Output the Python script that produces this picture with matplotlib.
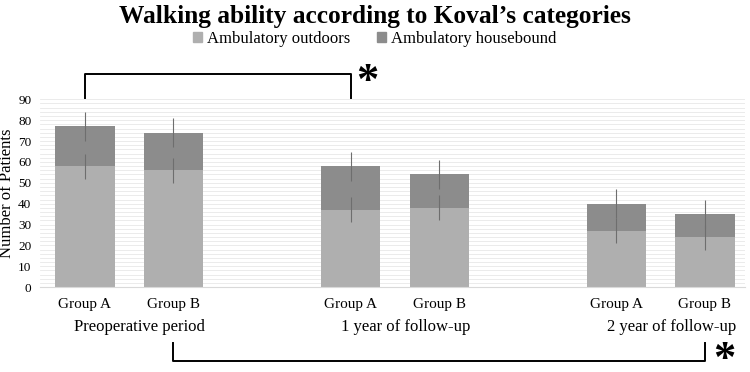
import numpy as np
import matplotlib
matplotlib.use('Agg')
import matplotlib.pyplot as plt
from matplotlib.patches import Patch

plt.rcParams['font.family'] = ['Liberation Serif', 'DejaVu Serif']

groups = ['Group A', 'Group B', 'Group A', 'Group B', 'Group A', 'Group B']
periods = ['Preoperative period', '1 year of follow-up', '2 year of follow-up']
outdoors = [58, 56, 37, 38, 27, 24]
housebound_total = [77, 74, 58, 54, 40, 35]
outdoors_err = [6, 6, 6, 6, 6, 6]
total_err = [7, 7, 7, 7, 7, 7]

housebound = [t - o for t, o in zip(housebound_total, outdoors)]
xpos = np.array([0, 1, 3, 4, 6, 7])

c_out = '#afafaf'
c_house = '#8c8c8c'

fig = plt.figure(figsize=(7.5, 3.72), dpi=100)
ax = fig.add_axes([0.053, 0.228, 0.94, 0.505])

# light grid, every 2 patients
for yy in np.arange(2, 91, 2):
	ax.axhline(yy, color='#e8e8e8', lw=0.6, zorder=0)

ax.bar(xpos, outdoors, width=0.67, color=c_out, zorder=2)
ax.bar(xpos, housebound, width=0.67, bottom=outdoors, color=c_house, zorder=2)
ax.errorbar(xpos, outdoors, yerr=outdoors_err, fmt='none', ecolor='#6e6e6e', elinewidth=0.8, capsize=0, zorder=3)
ax.errorbar(xpos, housebound_total, yerr=total_err, fmt='none', ecolor='#6e6e6e', elinewidth=0.8, capsize=0, zorder=3)

ax.set_xlim(-0.51, 7.45)
ax.set_ylim(0, 90)
ax.set_yticks(range(0, 91, 10))
ax.tick_params(axis='y', length=0, labelsize=9.5, pad=6)
ax.set_xticks(xpos)
ax.set_xticklabels(groups, fontsize=11)
ax.tick_params(axis='x', length=0, pad=8)
for s in ['top', 'right', 'left']:
	ax.spines[s].set_visible(False)
ax.spines['bottom'].set_color('#d9d9d9')
ax.set_ylabel('Number of Patients', fontsize=12)
ax.yaxis.set_label_coords(-0.035, 0.5)

for i, p in enumerate(periods):
	xc = (xpos[2 * i] + xpos[2 * i + 1]) / 2 + 0.12
	ax.annotate(p, xy=(xc, 0), xycoords=('data', 'axes fraction'), xytext=(0, -29),
		textcoords='offset points', ha='center', va='center', fontsize=12)

# significance brackets
ax.plot([0, 0, 3, 3], [90.5, 102.3, 102.3, 90.5], color='black', lw=1.4, clip_on=False)
ax.text(3.19, 98.5, '*', fontsize=32, fontweight='bold', ha='center', va='center', clip_on=False)
ax.plot([1, 1, 7, 7], [-26.6, -35.4, -35.4, -26.6], color='black', lw=1.4, clip_on=False)
ax.text(7.22, -34.8, '*', fontsize=32, fontweight='bold', ha='center', va='center', clip_on=False)

fig.text(0.5, 0.955, 'Walking ability according to Koval\u2019s categories', ha='center', va='center',
	fontsize=18.3, fontweight='bold')
handles = [Patch(color=c_out, label='Ambulatory outdoors'), Patch(color=c_house, label='Ambulatory housebound')]
fig.legend(handles=handles, loc='center', bbox_to_anchor=(0.5, 0.895), ncol=2, frameon=False,
	fontsize=12, handlelength=0.5, handleheight=0.5, handletextpad=0.35, columnspacing=1.6)

fig.savefig('out.png', dpi=100)
